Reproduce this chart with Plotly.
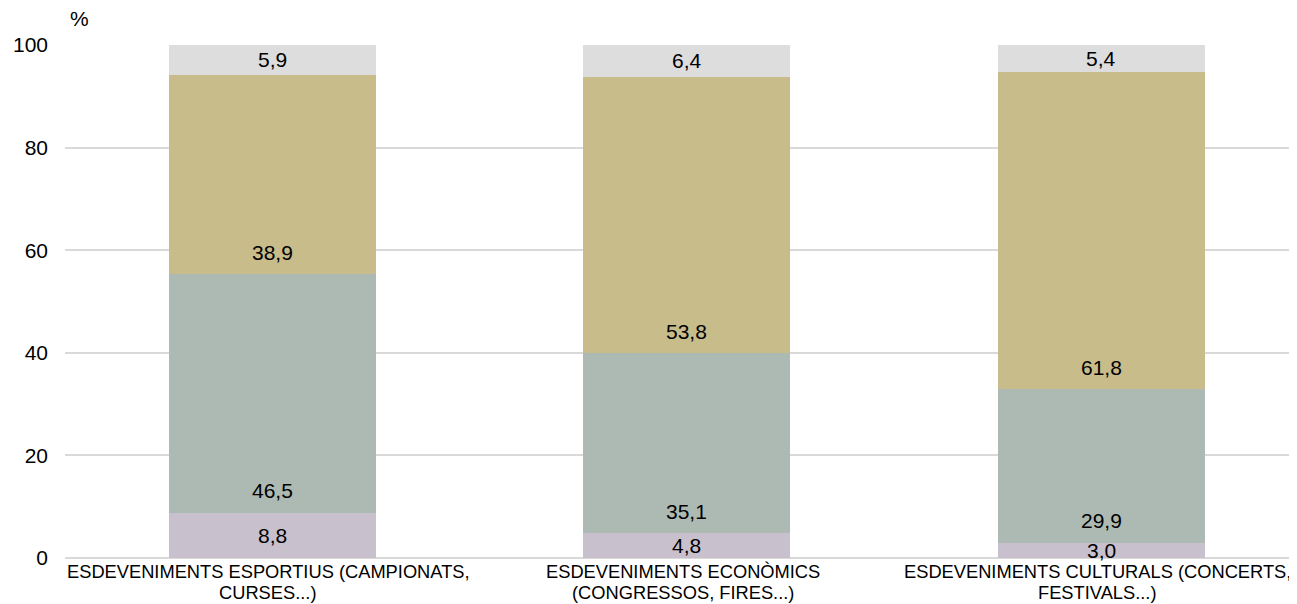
import plotly.graph_objects as go

categories = [
    "ESDEVENIMENTS ESPORTIUS (CAMPIONATS,<br>CURSES...)",
    "ESDEVENIMENTS ECONÒMICS<br>(CONGRESSOS, FIRES...)",
    "ESDEVENIMENTS CULTURALS (CONCERTS,<br>FESTIVALS...)",
]
series_names = ["S1", "S2", "S3", "S4"]
s1 = [8.8, 4.8, 3.0]
s2 = [46.5, 35.1, 29.9]
s3 = [38.9, 53.8, 61.8]
s4 = [5.9, 6.4, 5.4]
colors = ["#C9C0CD", "#ADBAB3", "#C7BC8A", "#DDDDDD"]
y_ticks = [0, 20, 40, 60, 80, 100]

FONT = "Liberation Sans, Arial"
series = [s1, s2, s3, s4]
x_idx = list(range(len(categories)))

# page has an 8px body margin; figure sized to compensate
W, H = 1289, 596
ML, MT, PH, PW = 57, 37, 513, 1232

fig = go.Figure()
for name, vals, col in zip(series_names, series, colors):
    fig.add_trace(go.Bar(
        x=x_idx, y=vals, name=name, marker=dict(color=col, line=dict(width=0)),
        width=0.5, hoverinfo="skip",
    ))

# data labels: near segment base (inside base), clamped to segment middle
offset = 4.3
annotations = []
base = [0.0] * len(categories)
for vals in series:
    for i, v in enumerate(vals):
        ypos = base[i] + min(offset, v / 2)
        annotations.append(dict(
            x=i, y=ypos, xref="x", yref="y",
            text=f"{v:.1f}".replace(".", ","), showarrow=False,
            font=dict(family=FONT, size=21, color="#000000"),
            yanchor="middle", xanchor="center",
        ))
        base[i] += v

# category labels, one annotation per line
for i, cat in enumerate(categories):
    for j, line in enumerate(cat.split("<br>")):
        annotations.append(dict(
            x=i, y=0, xref="x", yref="y", text=line, showarrow=False,
            font=dict(family=FONT, size=18.3, color="#000000"),
            xanchor="center", yanchor="middle", yshift=-(13 + 21 * j), xshift=-4,
        ))

annotations.append(dict(
    x=(71 - ML) / PW, y=1 + (MT - 10) / PH, xref="paper", yref="paper",
    text="%", showarrow=False, xanchor="center", yanchor="middle",
    font=dict(family=FONT, size=21, color="#000000"),
))

fig.update_layout(
    barmode="stack",
    width=W, height=H,
    margin=dict(l=ML, r=W - ML - PW, t=MT, b=H - MT - PH),
    paper_bgcolor="white", plot_bgcolor="white",
    showlegend=False,
    font=dict(family=FONT, color="#000000"),
    annotations=annotations,
)

fig.update_xaxes(
    tickvals=x_idx, showticklabels=False, automargin=False,
    range=[-0.5, 2.472], showgrid=False, showline=False, zeroline=False, ticks="",
)
fig.update_yaxes(
    range=[0, 100], tickvals=y_ticks, showgrid=True, gridcolor="#D9D9D9", gridwidth=1.5,
    zeroline=True, zerolinecolor="#D9D9D9", zerolinewidth=1.5, showline=False, automargin=False,
    tickfont=dict(size=21, color="#000000"), ticks="", ticklabelstandoff=16,
)

fig.write_html("out.html")
